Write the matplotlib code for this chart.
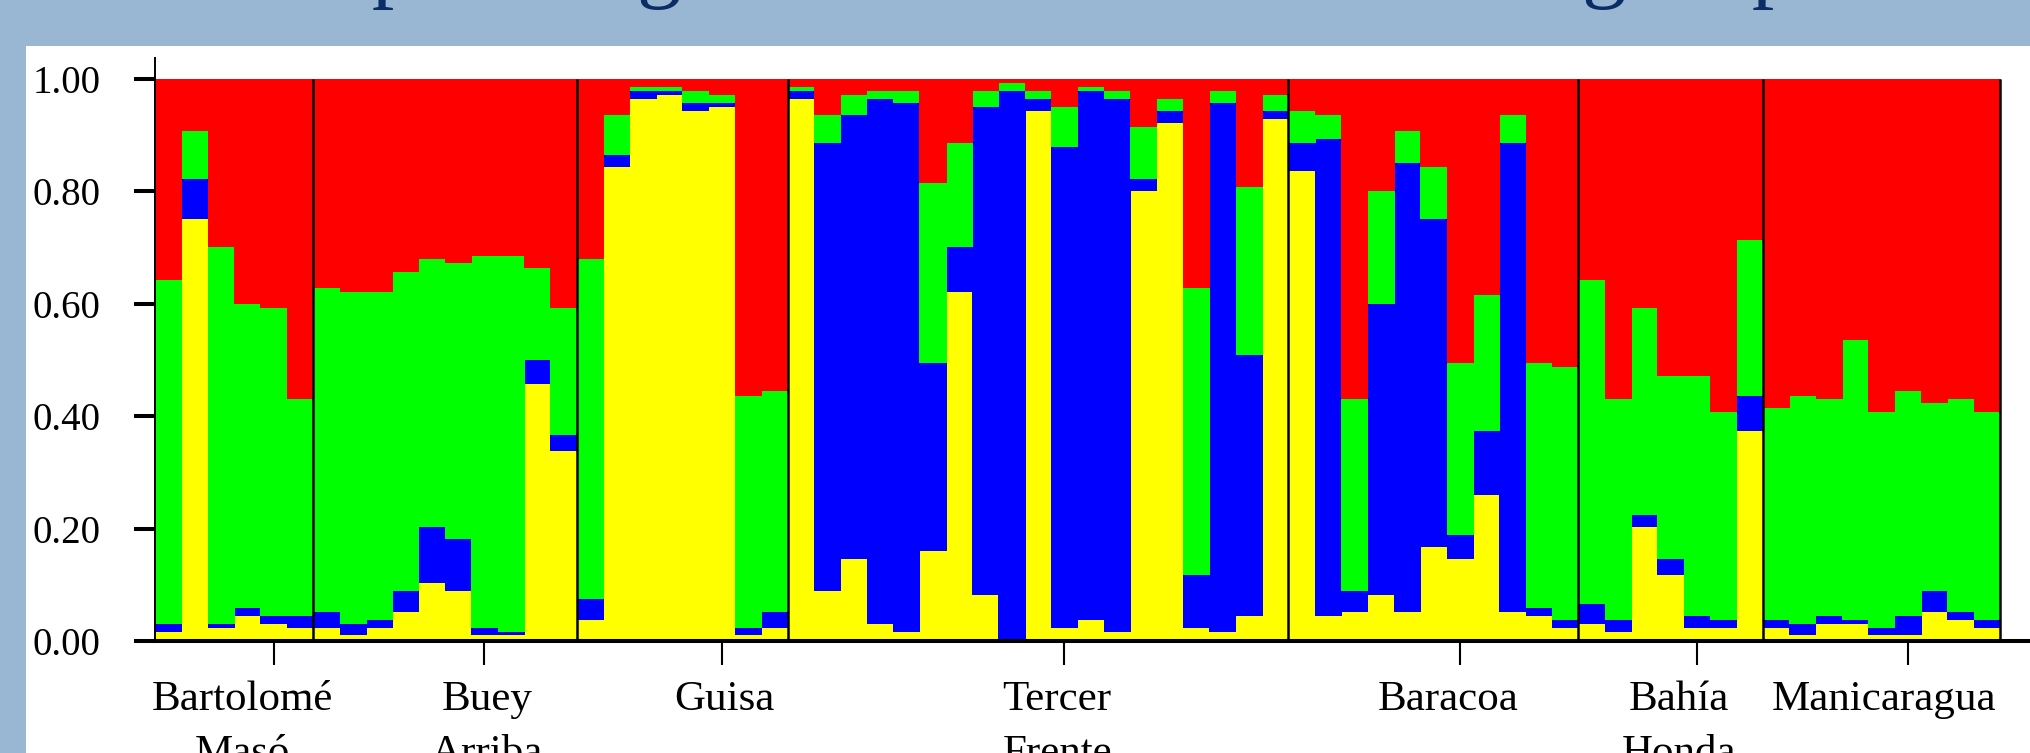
import matplotlib
matplotlib.use("Agg")
import matplotlib.pyplot as plt
from matplotlib.patches import Rectangle
import numpy as np

# populations and number of individuals in each
groups = ["Bartolomé\nMasó", "Buey\nArriba", "Guisa", "Tercer\nFrente",
          "Baracoa", "Bahía\nHonda", "Manicaragua"]
group_sizes = [6, 10, 8, 19, 11, 7, 9]

# cumulative membership (upper edge of each cluster)
yellow_top = [
    .016, .751, .023, .045, .031, .023,
    .023, .010, .023, .052, .103, .089, .010, .010, .458, .338,
    .0375, .843, .964, .971, .943, .950, .010, .023,
    .964, .089, .146, .031, .016, .160, .621, .082, 0.0, .943, .023, .0375, .016, .800, .922, .023, .016, .045, .929,
    .836, .045, .052, .082, .052, .167, .146, .260, .052, .045, .023,
    .031, .016, .203, .118, .023, .023, .373,
    .023, .010, .031, .031, .010, .010, .052, .0375, .023]
blue_top = [
    .031, .822, .031, .059, .045, .045,
    .052, .031, .0375, .089, .203, .182, .023, .016, .500, .366,
    .074, .864, .979, .979, .957, .957, .023, .052,
    .979, .886, .936, .964, .957, .494, .700, .950, .979, .964, .879, .979, .964, .822, .943, .118, .957, .508, .943,
    .886, .893, .089, .600, .851, .751, .188, .373, .886, .059, .0375,
    .066, .0375, .224, .146, .045, .0375, .436,
    .0375, .031, .045, .0375, .023, .045, .089, .052, .0375]
green_top = [
    .643, .907, .700, .600, .593, .430,
    .628, .621, .621, .657, .679, .672, .685, .685, .664, .593,
    .679, .936, .986, .986, .979, .971, .436, .444,
    .986, .936, .971, .979, .979, .815, .886, .979, .992, .979, .950, .986, .979, .915, .964, .628, .979, .808, .971,
    .943, .936, .430, .800, .907, .843, .494, .615, .936, .494, .487,
    .643, .430, .593, .472, .472, .408, .714,
    .415, .436, .430, .536, .408, .444, .423, .430, .408]

# label nudges (in bar widths) so names sit like the original
label_shift = [-1.2, 0.1, 0.1, -0.27, -0.42, -0.68, -0.91]

W, H = 2030, 753
serif = ["Liberation Serif", "DejaVu Serif"]

fig = plt.figure(figsize=(W / 100, H / 100), dpi=100)
fig.patch.set_facecolor("#99b6d2")
# white slide panel
fig.add_artist(Rectangle((26 / W, 0), 1, (H - 46) / H, transform=fig.transFigure,
                         facecolor="white", edgecolor="none", zorder=0))

# descenders of the slide title peeking in at the top
for ch, px in [("p", 372), ("g", 658), ("g", 1603), ("p", 1752)]:
    fig.text(px / W, (H + 9) / H, ch, fontsize=64, family=serif, color="#0b2c64",
             ha="left" if ch == "p" else "center", va="baseline")

ax = fig.add_axes([155 / W, (H - 641) / H, 1 - 155 / W, (641 - 58) / H])
ax.set_facecolor("white")

yt = np.array(yellow_top)
bt = np.array(blue_top)
gt = np.array(green_top)
x = np.arange(len(yt))

# slightly wider than 1 so neighbouring bars leave no hairline gap
for bottom, top, col in [(np.zeros_like(yt), yt, "#ffff00"), (yt, bt, "#0000ff"),
                         (bt, gt, "#00ff00"), (gt, np.ones_like(yt), "#ff0000")]:
    ax.bar(x, top - bottom, bottom=bottom, width=1.03, align="edge",
           color=col, linewidth=0)

# population boundaries
bounds = np.cumsum(group_sizes)
ax.vlines(bounds, 0, 1, color="black", linewidth=1.8)

ax.set_xlim(0, (W - 155) / ((2000 - 155) / len(yt)))
ax.set_ylim(0, 1.037)

for side in ["top", "right"]:
    ax.spines[side].set_visible(False)
ax.spines["left"].set_linewidth(1.4)
ax.spines["bottom"].set_linewidth(2.9)

ax.set_yticks([0, 0.2, 0.4, 0.6, 0.8, 1.0])
ax.set_yticklabels(["0.00", "0.20", "0.40", "0.60", "0.80", "1.00"], family=serif, fontsize=28)
ax.tick_params(axis="y", length=15, width=2.9, pad=24)

starts = np.concatenate([[0], bounds[:-1]])
tick_pos = starts + np.array(group_sizes) // 2 + 1.5
ax.set_xticks(tick_pos)
ax.set_xticklabels([])
ax.tick_params(axis="x", length=17, width=1.5)

for name, pos, sh in zip(groups, tick_pos, label_shift):
    ax.text(pos + sh, -0.067, name, transform=ax.get_xaxis_transform(),
            ha="center", va="top", fontsize=31, family=serif, linespacing=1.55,
            multialignment="center", clip_on=False)

fig.savefig("out.png", dpi=100, facecolor=fig.get_facecolor())
